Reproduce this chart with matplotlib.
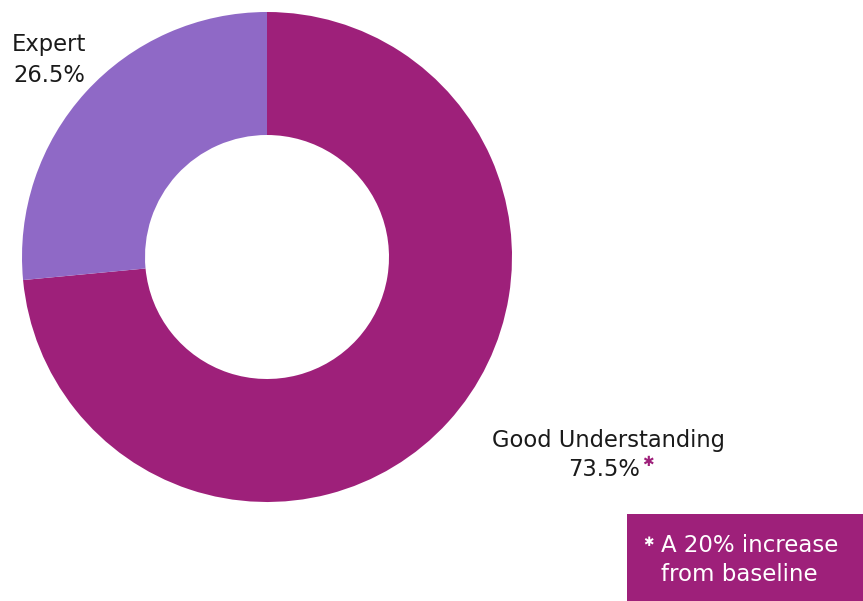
import matplotlib
matplotlib.use("Agg")
import matplotlib.pyplot as plt
from matplotlib.patches import Rectangle

# data
labels = ["Good Understanding", "Expert"]
values = [73.5, 26.5]
colors = ["#9E207A", "#8F69C6"]
note = "A 20% increase\nfrom baseline"

W, H = 863, 601
fig = plt.figure(figsize=(W / 100, H / 100), dpi=100)
ax = fig.add_axes([0, 0, 1, 1])
ax.set_xlim(0, W)
ax.set_ylim(0, H)
ax.axis("off")

# donut, clockwise from 12 o'clock
ax.pie(values, colors=colors, startangle=90, counterclock=False,
       center=(267, H - 257), radius=245,
       wedgeprops=dict(width=123, linewidth=0))
ax.set_xlim(0, W)
ax.set_ylim(0, H)
ax.set_aspect("auto")

txt = dict(fontsize=16.3, color="#1a1a1a", family="DejaVu Sans")
ax.text(49, H - 45, labels[1], ha="center", va="center", **txt)
ax.text(49, H - 76, f"{values[1]}%", ha="center", va="center", **txt)
ax.text(608, H - 440, labels[0], ha="center", va="center", **txt)
ax.text(604, H - 470, f"{values[0]}%", ha="center", va="center", **txt)
ax.text(648, H - 462, "✱", ha="center", va="center", fontsize=10,
        color=colors[0], family="DejaVu Sans")

# footnote box
ax.add_patch(Rectangle((627, 0), W - 627, H - 514, color=colors[0], lw=0))
ax.text(648, H - 543, "✱", ha="center", va="center", fontsize=9,
        color="white", family="DejaVu Sans")
ax.text(661, H - 560, note, ha="left", va="center", fontsize=16.5,
        color="white", family="DejaVu Sans", linespacing=1.35)

fig.savefig("out.png", dpi=100)
